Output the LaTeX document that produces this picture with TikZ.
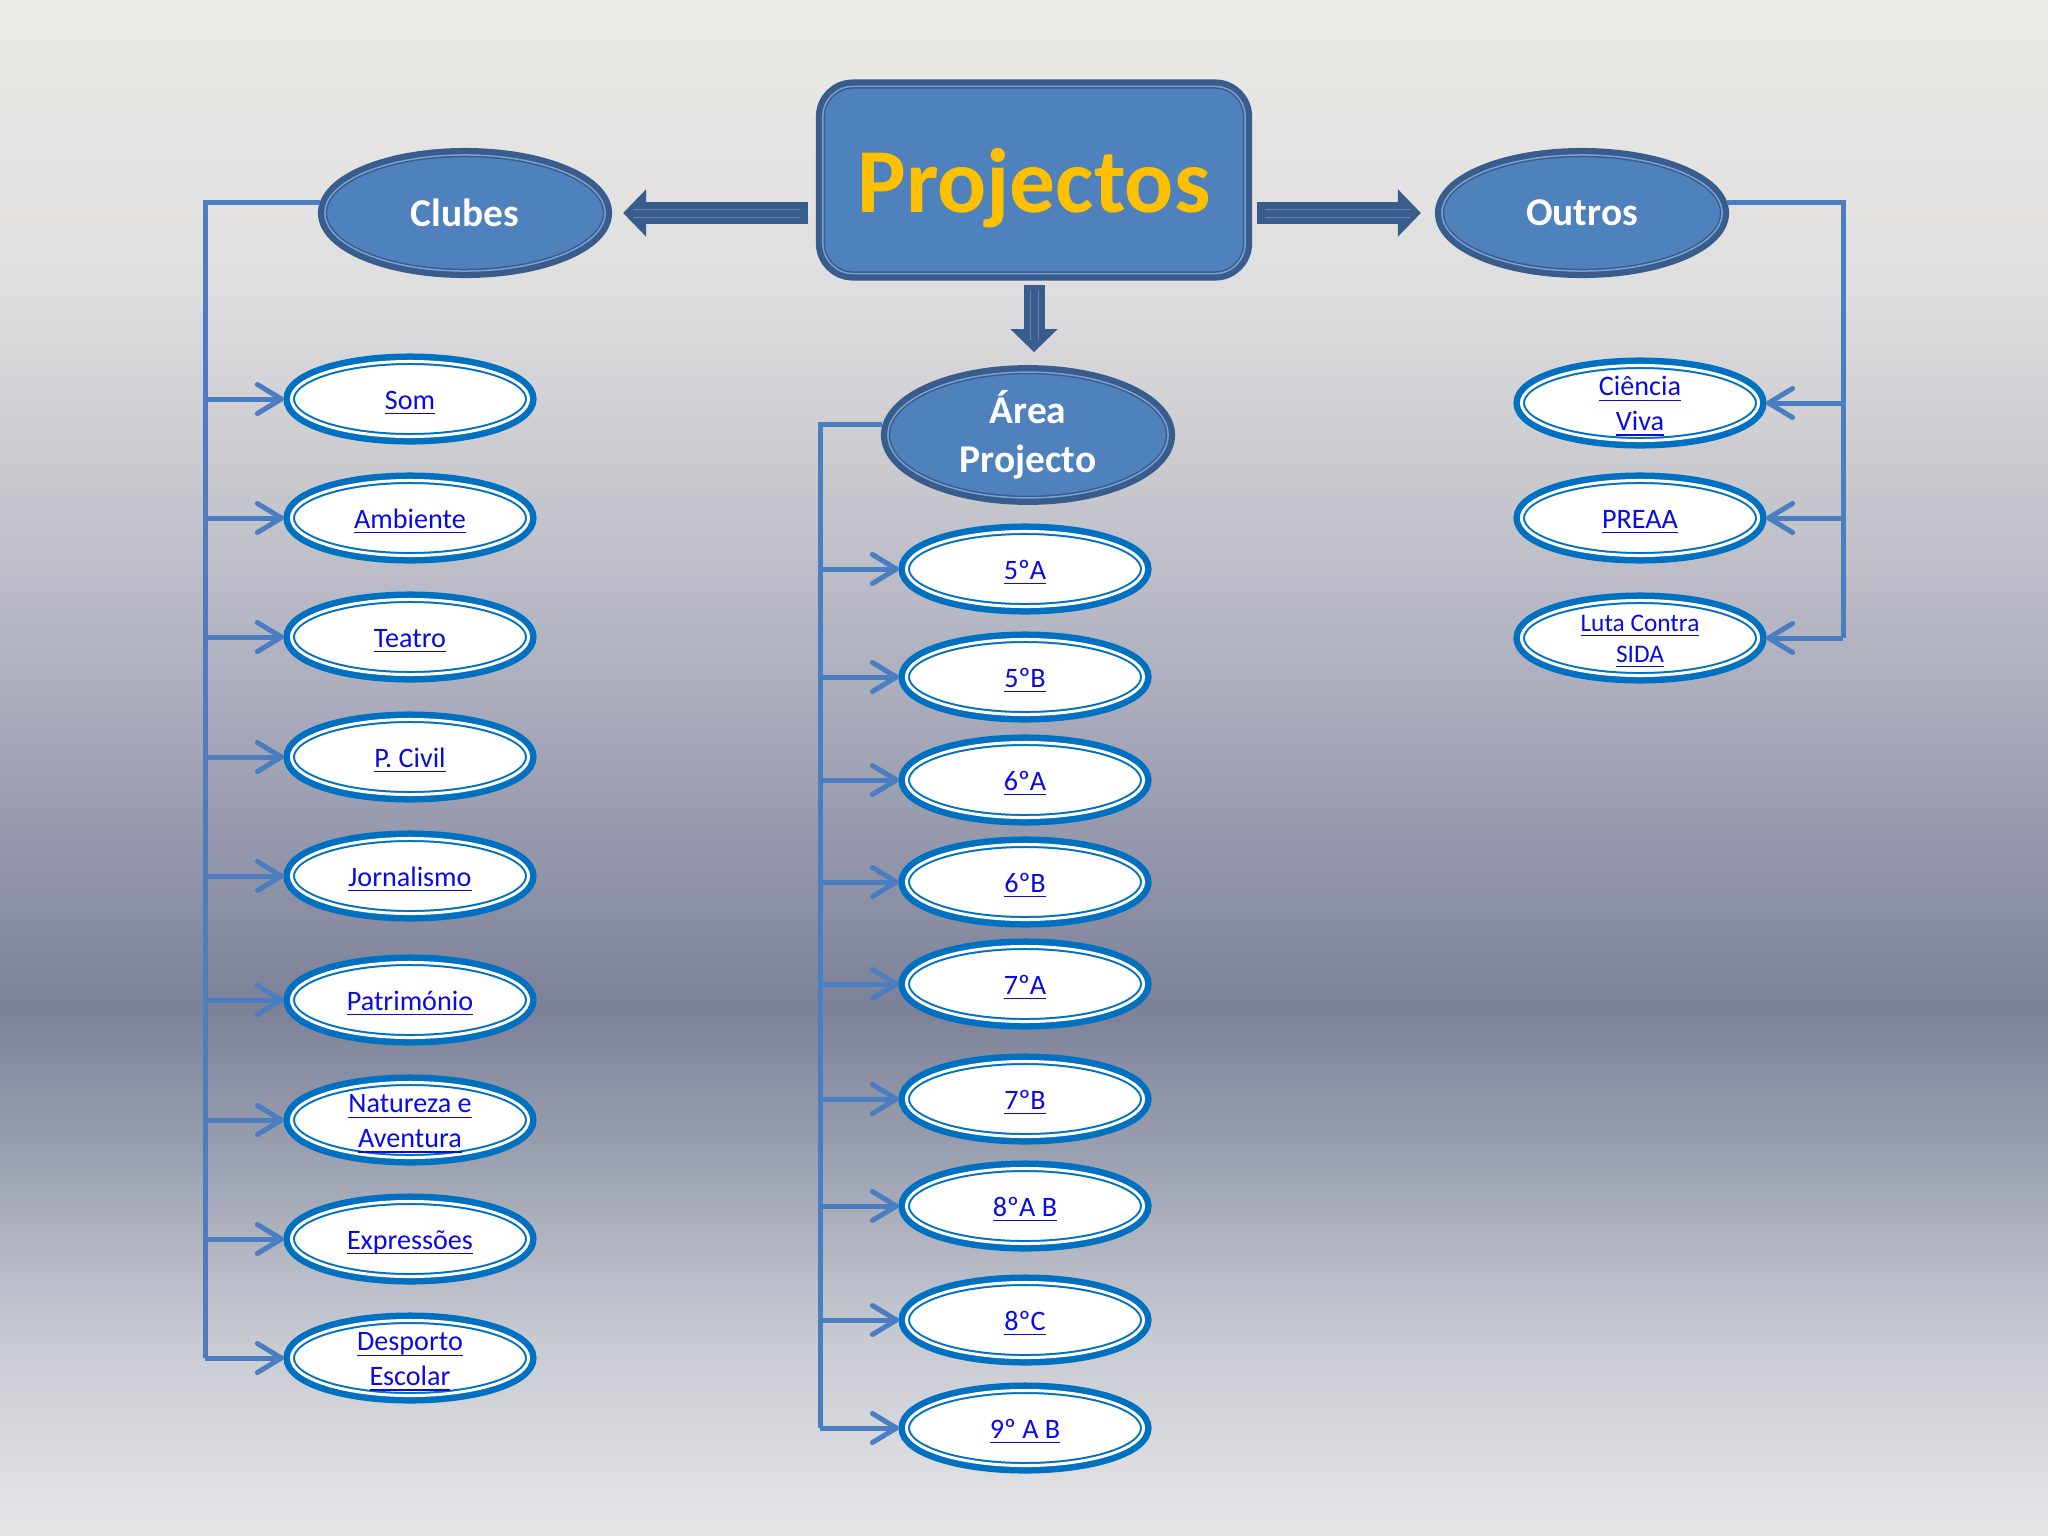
\documentclass[tikz,border=0pt]{standalone}
\definecolor{deep}{RGB}{56,93,140}
\definecolor{face}{RGB}{79,129,189}
\definecolor{shine}{RGB}{122,160,212}
\definecolor{rim}{RGB}{0,112,192}
\definecolor{wire}{RGB}{74,126,193}
\definecolor{link}{RGB}{10,10,230}
\definecolor{gold}{RGB}{255,192,0}
\definecolor{bgA}{RGB}{236,234,229}
\definecolor{bgB}{RGB}{224,223,224}
\definecolor{bgC}{RGB}{203,203,208}
\definecolor{bgD}{RGB}{172,174,190}
\definecolor{bgE}{RGB}{125,129,152}
\definecolor{bgF}{RGB}{155,160,176}
\definecolor{bgG}{RGB}{200,202,210}
\definecolor{bgH}{RGB}{230,230,232}
\usepackage{amsmath}
\usepackage{fontspec}
\setmainfont{Carlito}
\usepackage{tikz}
\usetikzlibrary{arrows.meta,shapes.geometric}
\pgfdeclareverticalshading{slide}{100bp}{color(0bp)=(bgH); color(25bp)=(bgH);
  color(31.5bp)=(bgG); color(37.5bp)=(bgF); color(42.25bp)=(bgE); color(52.5bp)=(bgD);
  color(60bp)=(bgC); color(66bp)=(bgB); color(75bp)=(bgA); color(100bp)=(bgA)}
\newcommand{\lnk}[1]{\rule{0pt}{0.95em}\underline{\smash[b]{#1}}}
\tikzset{
  headbox/.style={rectangle, rounded corners=3mm, fill=face, preaction={draw=deep, line width=1.4mm},
              draw=deep, line width=0.15mm, double=shine, double distance=0.15mm,
              minimum width=42.2mm, minimum height=18.7mm, outer sep=0.7mm, text depth=0pt,
              text=gold, font=\bfseries\fontsize{26}{30}\selectfont},
  hub/.style={ellipse, fill=face, preaction={draw=deep, line width=1.4mm}, draw=deep,
              line width=0.15mm, double=shine, double distance=0.15mm, minimum width=28mm,
              minimum height=11.6mm, outer sep=0.7mm, inner sep=0pt, text=white, align=center,
              font=\bfseries\fontsize{11.2}{14}\selectfont},
  leaf/.style={ellipse, fill=white, preaction={draw=rim, line width=1.6mm}, draw=rim,
              line width=0.2mm, double=white, double distance=0.3mm, minimum width=23.7mm,
              minimum height=7.5mm, outer sep=0.75mm, inner xsep=0pt, inner ysep=-1.5mm,
              text=link, align=center, font=\fontsize{8}{9.9}\selectfont},
  trunk/.style={wire, line width=0.5mm},
  flow/.style={trunk, -{Straight Barb[length=2.4mm, width=2.9mm, round]}},
  block/.style={deep, line width=2.1mm, -{Triangle[length=2.3mm, width=4.6mm]}},
  blockin/.style={shine!60!deep, line width=0.1mm, double=deep, double distance=0.7mm},
}
\begin{document}
\begin{tikzpicture}[x=0.01cm, y=-0.01cm]
    \useasboundingbox (0,0) rectangle (2048,1536);
    \fill[shading=slide] (0,0) rectangle (2048,1536);
    \node[headbox] (proj) at (1034,180) {Projectos};
    \node[hub] (clubes) at (465,213) {Clubes};
    \node[hub] (outros) at (1582,213) {Outros};
    \node[hub] (area) at (1028,435) {Área\\Projecto};
    % clubes
    \node[leaf] (som)    at (410,399)  {\lnk{Som}};
    \node[leaf] (amb)    at (410,518)  {\lnk{Ambiente}};
    \node[leaf] (teatro) at (410,637)  {\lnk{Teatro}};
    \node[leaf] (pcivil) at (410,757)  {\lnk{P. Civil}};
    \node[leaf] (jorn)   at (410,876)  {\lnk{Jornalismo}};
    \node[leaf] (patr)   at (410,1000) {\lnk{Património}};
    \node[leaf] (natur)  at (410,1120) {\lnk{Natureza e}\\\lnk{Aventura}};
    \node[leaf] (expr)   at (410,1239) {\lnk{Expressões}};
    \node[leaf] (desp)   at (410,1358) {\lnk{Desporto}\\\lnk{Escolar}};
    % turmas
    \node[leaf] (t5a)  at (1025,569)  {\lnk{5ºA}};
    \node[leaf] (t5b)  at (1025,677)  {\lnk{5ºB}};
    \node[leaf] (t6a)  at (1025,780)  {\lnk{6ºA}};
    \node[leaf] (t6b)  at (1025,882)  {\lnk{6ºB}};
    \node[leaf] (t7a)  at (1025,984)  {\lnk{7ºA}};
    \node[leaf] (t7b)  at (1025,1099) {\lnk{7ºB}};
    \node[leaf] (t8ab) at (1025,1206) {\lnk{8ºA B}};
    \node[leaf] (t8c)  at (1025,1320) {\lnk{8ºC}};
    \node[leaf] (t9ab) at (1025,1428) {\lnk{9º A B}};
    % outros
    \node[leaf] (civ)   at (1640,403) {\lnk{Ciência}\\\lnk{Viva}};
    \node[leaf] (preaa) at (1640,518) {\lnk{PREAA}};
    \node[leaf, font=\fontsize{7.2}{8.8}\selectfont] (sida) at (1640,638)
      {\lnk{Luta Contra}\\\lnk{SIDA}};
    \draw[block, shorten <=0.8mm, shorten >=1.1mm] (proj.west |- clubes.east) -- (clubes.east);
    \draw[blockin, shorten <=1.6mm, shorten >=2.1mm] (proj.west |- clubes.east) -- (clubes.east);
    \draw[block, shorten <=0.5mm, shorten >=1.4mm] (proj.east |- outros.west) -- (outros.west);
    \draw[blockin, shorten <=1.3mm, shorten >=2.4mm] (proj.east |- outros.west) -- (outros.west);
    \draw[block, shorten <=0.4mm, shorten >=1.3mm] (proj.south) -- (proj.south |- area.north);
    \draw[blockin, shorten <=1.0mm, shorten >=2.5mm] (proj.south) -- (proj.south |- area.north);
    \coordinate (lbar) at (205,0);
    \coordinate (mbar) at (820,0);
    \coordinate (rbar) at (1843,0);
    \draw[trunk] (clubes.176) -- (clubes.176 -| lbar) -- (lbar |- desp.west);
    \draw[flow] (lbar |- som.west) -- (som.west);
    \draw[flow] (lbar |- amb.west) -- (amb.west);
    \draw[flow] (lbar |- teatro.west) -- (teatro.west);
    \draw[flow] (lbar |- pcivil.west) -- (pcivil.west);
    \draw[flow] (lbar |- jorn.west) -- (jorn.west);
    \draw[flow] (lbar |- patr.west) -- (patr.west);
    \draw[flow] (lbar |- natur.west) -- (natur.west);
    \draw[flow] (lbar |- expr.west) -- (expr.west);
    \draw[flow] (lbar |- desp.west) -- (desp.west);
    \draw[trunk] (area.176) -- (area.176 -| mbar) -- (mbar |- t9ab.west);
    \draw[flow] (mbar |- t5a.west) -- (t5a.west);
    \draw[flow] (mbar |- t5b.west) -- (t5b.west);
    \draw[flow] (mbar |- t6a.west) -- (t6a.west);
    \draw[flow] (mbar |- t6b.west) -- (t6b.west);
    \draw[flow] (mbar |- t7a.west) -- (t7a.west);
    \draw[flow] (mbar |- t7b.west) -- (t7b.west);
    \draw[flow] (mbar |- t8ab.west) -- (t8ab.west);
    \draw[flow] (mbar |- t8c.west) -- (t8c.west);
    \draw[flow] (mbar |- t9ab.west) -- (t9ab.west);
    \draw[trunk] (outros.4) -- (outros.4 -| rbar) -- (rbar |- sida.east);
    \draw[flow] (rbar |- civ.east) -- (civ.east);
    \draw[flow] (rbar |- preaa.east) -- (preaa.east);
    \draw[flow] (rbar |- sida.east) -- (sida.east);
\end{tikzpicture}
\end{document}
